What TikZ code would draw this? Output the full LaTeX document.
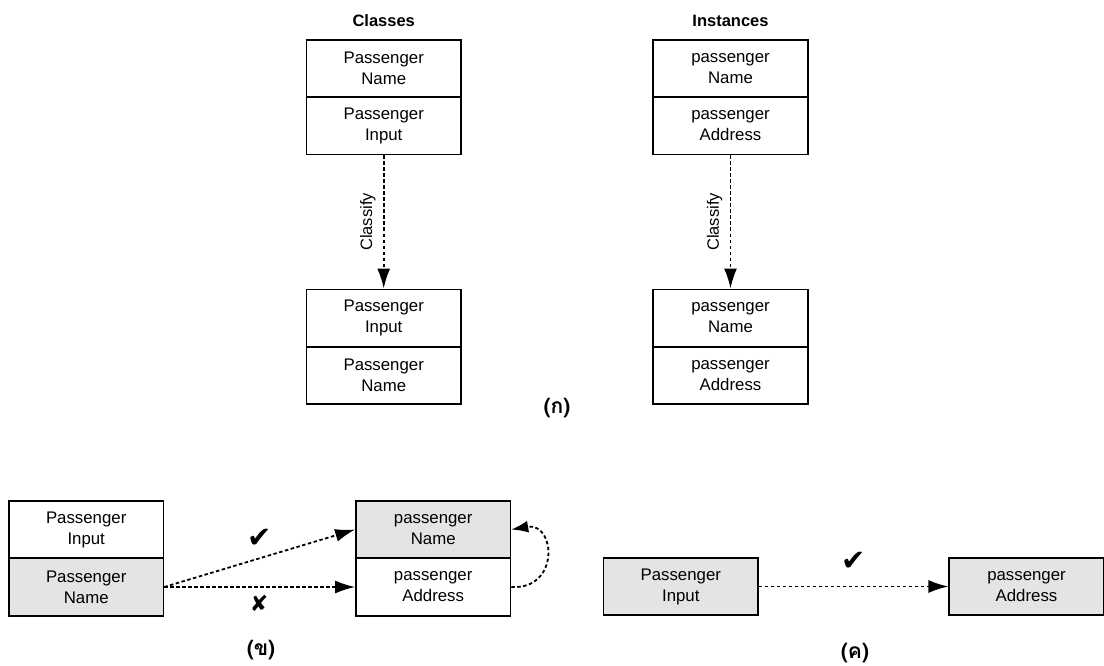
\documentclass[tikz,border=0pt]{standalone}
\usepackage{fontspec}
\setmainfont{Liberation Sans}
\newfontfamily\thaifont[Script=Thai]{Loma}
\newfontfamily\symfont{DejaVu Sans}
\usetikzlibrary{arrows.meta}
\definecolor{cellgray}{RGB}{228,228,228}
\begin{document}
\begin{tikzpicture}[x=1pt,y=-1pt,
  cell/.style={draw, line width=1.6pt, minimum width=154.5pt, minimum height=57.4pt,
    align=center, inner sep=0pt, font=\fontsize{16.8}{21}\selectfont},
  shaded/.style={cell, fill=cellgray},
  heading/.style={font=\bfseries\fontsize{16.5}{20}\selectfont},
  flow/.style={line width=1.8pt, dash pattern=on 3.5pt off 2.5pt,
    -{Latex[length=20pt,width=13pt]}},
  lbl/.style={font=\fontsize{16.5}{20}\selectfont},
  caption/.style={inner sep=0pt, font=\thaifont\bfseries\fontsize{21}{22}\selectfont},
  tick/.style={inner sep=0pt, font=\symfont\fontsize{29}{29}\selectfont},
  cross/.style={inner sep=0pt, font=\symfont\fontsize{22}{22}\selectfont}]
\useasboundingbox (0,0) rectangle (1104,666);

% Classes column
\node[heading] (clsHead) at (383.7,20.7) {Classes};
\node[cell] (c1a) at (383.7,68.7) {Passenger\\Name};
\node[cell] (c1b) at (383.7,126) {Passenger\\Input};
\node[cell] (c2a) at (383.7,318) {Passenger\\Input};
\node[cell] (c2b) at (383.7,375.4) {Passenger\\Name};
\draw[flow] (c1b.south) -- node[lbl, rotate=90, above=4pt] (clsLbl) {Classify} (c2a.north);

% Instances column
\node[heading] (insHead) at (730.5,20.7) {Instances};
\node[cell] (i1a) at (730.5,68.7) {passenger\\Name};
\node[cell] (i1b) at (730.5,126) {passenger\\Address};
\node[cell] (i2a) at (730.5,318) {passenger\\Name};
\node[cell] (i2b) at (730.5,375.4) {passenger\\Address};
\draw[flow] (i1b.south) -- node[lbl, rotate=90, above=4pt] (insLbl) {Classify} (i2a.north);

\node[caption] (capA) at (557,408) {(ก)};

% Part (b)
\node[cell] (b1a) at (86.2,529.5) {Passenger\\Input};
\node[shaded] (b1b) at (86.2,587) {Passenger\\Name};
\node[shaded] (b2a) at (433.2,529.5) {passenger\\Name};
\node[cell] (b2b) at (433.2,587) {passenger\\Address};
\draw[flow] (b1b.east) -- (b2a.west);
\draw[flow] (b1b.east) -- (b2b.west);
\draw[flow, -{Latex[length=17pt,width=12pt]}] (b2b.east) .. controls (560,590) and (556,522) .. (b2a.east);
\node[tick] (okB) at (260,538) {✔};
\node[cross] (noB) at (259,603) {✘};
\node[caption] (capB) at (261,650) {(ข)};

% Part (c)
\node[shaded] (c3a) at (680.8,586.5) {Passenger\\Input};
\node[shaded] (c3b) at (1026.5,586.5) {passenger\\Address};
\draw[flow] (c3a.east) -- (c3b.west);
\node[tick] (okC) at (854,561) {✔};
\node[caption] (capC) at (855,653) {(ค)};
\end{tikzpicture}
\end{document}
